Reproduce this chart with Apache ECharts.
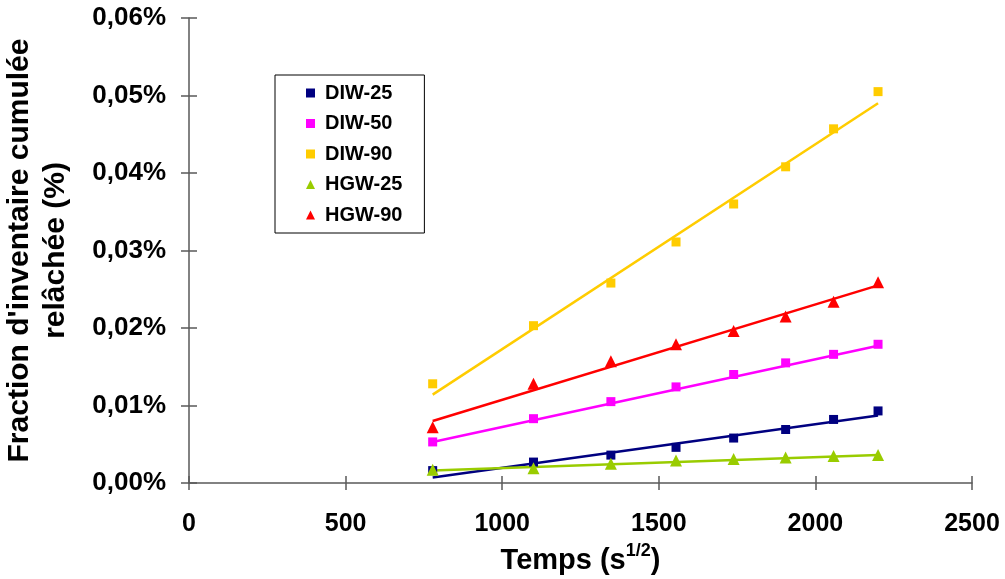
<!DOCTYPE html>
<html>
<head>
<meta charset="utf-8">
<script src="https://cdn.jsdelivr.net/npm/echarts@6/dist/echarts.min.js"></script>
<style>
html,body{margin:0;padding:0;background:#fff;}
#c{width:1005px;height:579px;}
</style>
</head>
<body>
<div id="c"></div>
<script>
// Temps (s^1/2)
const times = [778, 1100, 1347, 1555, 1739, 1905, 2058, 2200];
const seriesNames = ['DIW-25', 'DIW-50', 'DIW-90', 'HGW-25', 'HGW-90'];
// Fraction relâchée (%)
const diw25 = [0.0016, 0.0027, 0.0036, 0.0046, 0.0058, 0.0069, 0.0082, 0.0093];
const diw50 = [0.0053, 0.0083, 0.0105, 0.0124, 0.0140, 0.0155, 0.0166, 0.0179];
const diw90 = [0.0128, 0.0203, 0.0258, 0.0311, 0.0360, 0.0408, 0.0457, 0.0505];
const hgw25 = [0.0017, 0.0019, 0.0025, 0.0029, 0.0031, 0.0033, 0.0035, 0.0036];
const hgw90 = [0.0072, 0.0128, 0.0157, 0.0179, 0.0196, 0.0215, 0.0234, 0.0259];
// Trend lines (start/end values)
const trendX = [778, 2200];
const trendDiw25 = [0.0007, 0.0087];
const trendDiw50 = [0.0053, 0.0177];
const trendDiw90 = [0.0114, 0.0490];
const trendHgw25 = [0.0016, 0.0036];
const trendHgw90 = [0.0080, 0.0255];

const colors = ['#000080', '#FF00FF', '#FFCC00', '#99CC00', '#FF0000'];
const symbols = ['rect', 'rect', 'rect', 'triangle', 'triangle'];
const symSizes = [9, 9, 9, 12, 12];
const values = [diw25, diw50, diw90, hgw25, hgw90];
const trends = [trendDiw25, trendDiw50, trendDiw90, trendHgw25, trendHgw90];

const FONT = '"Liberation Sans", Arial, sans-serif';
const axisColor = '#595959';

const series = [];
for (let i = 0; i < 5; i++) {
  series.push({
    name: seriesNames[i] + '_trend',
    type: 'line',
    data: trendX.map((x, k) => [x, trends[i][k]]),
    showSymbol: false,
    symbol: 'none',
    lineStyle: { color: colors[i], width: 2.5 },
    z: 2,
    silent: true
  });
}
for (let i = 0; i < 5; i++) {
  series.push({
    name: seriesNames[i],
    type: 'scatter',
    data: times.map((x, k) => [x, values[i][k]]),
    symbol: symbols[i],
    symbolSize: symSizes[i],
    itemStyle: { color: colors[i], opacity: 1 },
    z: 3
  });
}

const chart = echarts.init(document.getElementById('c'), null, { renderer: 'canvas' });
chart.setOption({
  animation: false,
  backgroundColor: '#fff',
  textStyle: { fontFamily: FONT },
  grid: { left: 189, right: 33, top: 18, bottom: 96, containLabel: false, outerBoundsMode: 'none' },
  legend: {
    data: seriesNames.map((n, i) => ({ name: n, icon: symbols[i] === 'rect' ? 'rect' : 'triangle' })),
    orient: 'vertical',
    left: 275,
    top: 75,
    itemWidth: 9,
    itemHeight: 9,
    itemGap: 10.5,
    padding: [8, 22, 8, 31],
    borderColor: '#000',
    borderWidth: 1,
    backgroundColor: '#fff',
    textStyle: { fontFamily: FONT, fontSize: 20, fontWeight: 'bold', color: '#000', lineHeight: 20, padding: [0, 0, 0, 5] },
    selectedMode: false
  },
  xAxis: [{
    type: 'value',
    min: 0, max: 2500, interval: 500,
    name: '{a|Temps (s}{b|1/2}{a|)}',
    nameLocation: 'middle',
    nameGap: 52,
    nameTextStyle: {
      rich: {
        a: { fontFamily: FONT, fontSize: 29, fontWeight: 'bold', color: '#000', lineHeight: 34, verticalAlign: 'bottom' },
        b: { fontFamily: FONT, fontSize: 18, fontWeight: 'bold', color: '#000', lineHeight: 34, verticalAlign: 'top' }
      }
    },
    axisLine: { show: true, lineStyle: { color: axisColor, width: 1.5 } },
    axisTick: { show: true, length: 7, lineStyle: { color: axisColor, width: 1.5 } },
    splitLine: { show: false },
    axisLabel: { fontFamily: FONT, fontSize: 25, fontWeight: 'bold', color: '#000', margin: 29, formatter: v => String(v) }
  }, {
    type: 'value', position: 'bottom',
    min: 0, max: 2500, interval: 500,
    axisLine: { show: false },
    axisTick: { show: true, inside: true, length: 7, lineStyle: { color: axisColor, width: 1.5 } },
    axisLabel: { show: false },
    splitLine: { show: false }
  }],
  yAxis: [{
    type: 'value',
    min: 0, max: 0.06, interval: 0.01,
    name: "Fraction d'inventaire cumulée\nrelâchée (%)",
    nameLocation: 'middle',
    nameGap: 115,
    nameTextStyle: { fontFamily: FONT, fontSize: 30, fontWeight: 'bold', color: '#000', lineHeight: 36, align: 'center' },
    axisLine: { show: true, lineStyle: { color: axisColor, width: 1.5 } },
    axisTick: { show: true, length: 8, lineStyle: { color: axisColor, width: 1.5 } },
    splitLine: { show: false },
    axisLabel: {
      fontFamily: FONT, fontSize: 26, fontWeight: 'bold', color: '#000', margin: 23,
      formatter: v => v.toFixed(2).replace('.', ',') + '%'
    }
  }, {
    type: 'value', position: 'left',
    min: 0, max: 0.06, interval: 0.01,
    axisLine: { show: false },
    axisTick: { show: true, inside: true, length: 8, lineStyle: { color: axisColor, width: 1.5 } },
    axisLabel: { show: false },
    splitLine: { show: false }
  }],
  series: series
});
</script>
</body>
</html>
